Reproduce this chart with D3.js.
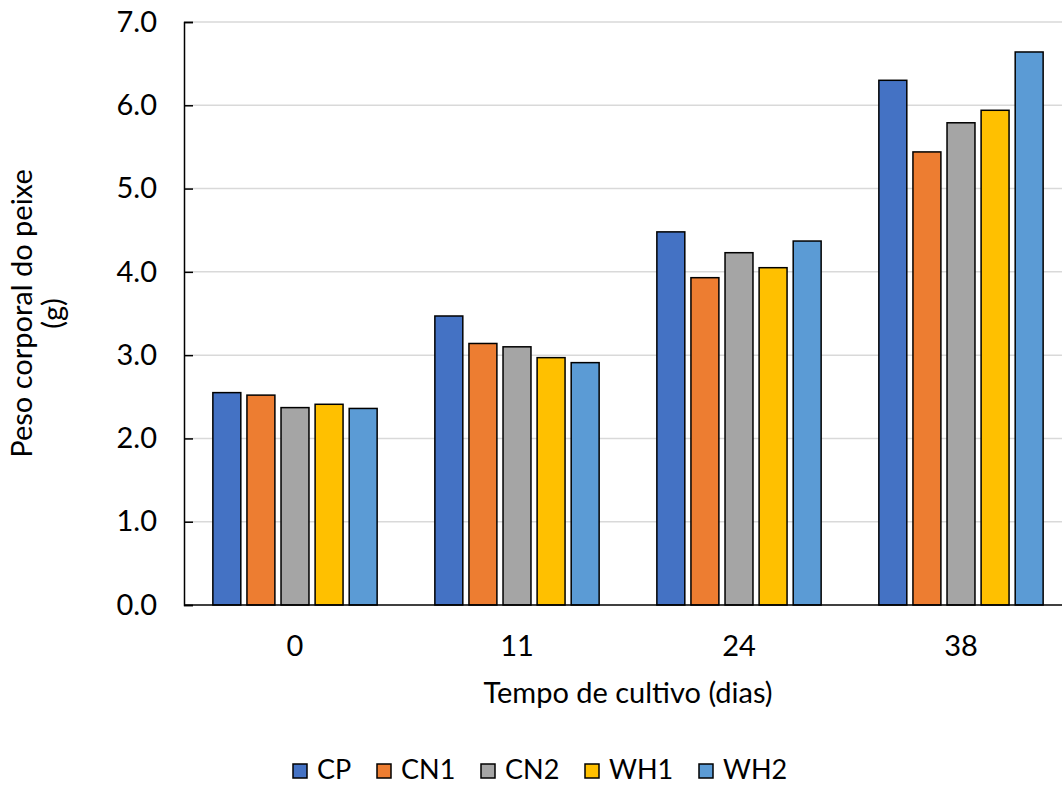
<!DOCTYPE html>
<html>
<head>
<meta charset="utf-8">
<script src="https://cdn.jsdelivr.net/npm/d3@7"></script>
<style>
  body { margin: 0; background: #fff; }
  text { font-family: Lato, "Open Sans", sans-serif; fill: #000; }
</style>
</head>
<body>
<div id="chart"></div>
<script>
// data
var days = ["0", "11", "24", "38"];
var groups = ["CP", "CN1", "CN2", "WH1", "WH2"];
var CP  = [2.55, 3.47, 4.48, 6.30];
var CN1 = [2.52, 3.14, 3.93, 5.44];
var CN2 = [2.37, 3.10, 4.23, 5.79];
var WH1 = [2.41, 2.97, 4.05, 5.94];
var WH2 = [2.36, 2.91, 4.37, 6.64];
var yTicks = [0, 1, 2, 3, 4, 5, 6, 7];

var series = { CP: CP, CN1: CN1, CN2: CN2, WH1: WH1, WH2: WH2 };
var colors = d3.scaleOrdinal()
    .domain(groups)
    .range(["#4472C4", "#ED7D31", "#A5A5A5", "#FFC000", "#5B9BD5"]);

var W = 1062, H = 785;
var plotLeft = 184, plotTop = 22, plotBottom = 605, plotRight = 1072;
var fs = "29px";

var svg = d3.select("#chart").append("svg")
    .attr("width", W)
    .attr("height", H);

// scales
var x0 = d3.scaleBand().domain(days).range([plotLeft, plotRight]).paddingInner(0.26).paddingOuter(0.13);
var x1 = d3.scaleBand().domain(groups).range([0, x0.bandwidth()]).paddingInner(0.18);
var y = d3.scaleLinear().domain([0, 7]).range([plotBottom, plotTop]);

// gridlines
svg.append("g")
    .selectAll("line")
    .data(yTicks.slice(1))
    .enter()
    .append("line")
    .attr("x1", plotLeft).attr("x2", W)
    .attr("y1", function(d) { return y(d); })
    .attr("y2", function(d) { return y(d); })
    .attr("stroke", "#d9d9d9")
    .attr("stroke-width", 1.5);

// bars
var rows = days.map(function(d, i) {
    return { day: d, vals: groups.map(function(g) { return { key: g, value: series[g][i] }; }) };
});

svg.append("g")
    .selectAll("g")
    .data(rows)
    .enter()
    .append("g")
    .attr("transform", function(d) { return "translate(" + x0(d.day) + ",0)"; })
    .selectAll("rect")
    .data(function(d) { return d.vals; })
    .enter()
    .append("rect")
    .attr("x", function(d) { return x1(d.key); })
    .attr("y", function(d) { return y(d.value); })
    .attr("width", x1.bandwidth())
    .attr("height", function(d) { return y(0) - y(d.value); })
    .attr("fill", function(d) { return colors(d.key); })
    .attr("stroke", "#000")
    .attr("stroke-width", 1.5);

// y axis (ticks inside)
var yAxis = svg.append("g")
    .attr("transform", "translate(" + plotLeft + ",0)")
    .call(d3.axisLeft(y).tickValues(yTicks).tickSize(-9).tickPadding(27)
        .tickFormat(d3.format(".1f")));
yAxis.select(".domain").attr("stroke", "#000").attr("stroke-width", 1.5);
yAxis.selectAll(".tick line").attr("stroke", "#000").attr("stroke-width", 1.5);
yAxis.selectAll("text").style("font-size", fs).attr("fill", "#000");

// x axis
var xAxis = svg.append("g")
    .attr("transform", "translate(0," + plotBottom + ")")
    .call(d3.axisBottom(x0).tickSize(0).tickPadding(30));
xAxis.select(".domain").attr("stroke", "#000").attr("stroke-width", 1.5)
    .attr("d", "M" + plotLeft + ",0H" + W);
xAxis.selectAll("text").style("font-size", fs).attr("fill", "#000");

// axis titles
svg.append("text")
    .attr("x", 628)
    .attr("y", 703)
    .attr("text-anchor", "middle")
    .style("font-size", fs)
    .text("Tempo de cultivo (dias)");

var yt = svg.append("text")
    .attr("transform", "translate(32," + ((plotTop + plotBottom) / 2) + ") rotate(-90)")
    .attr("text-anchor", "middle")
    .style("font-size", fs);
yt.append("tspan").attr("x", 0).attr("dy", 0).text("Peso corporal do peixe");
yt.append("tspan").attr("x", 0).attr("dy", 31).text("(g)");

// legend
var legendX = [293, 377, 481, 585, 699];
var leg = svg.append("g")
    .selectAll("g")
    .data(groups)
    .enter()
    .append("g")
    .attr("transform", function(d, i) { return "translate(" + legendX[i] + ",764)"; });
leg.append("rect")
    .attr("width", 14).attr("height", 14)
    .attr("fill", function(d) { return colors(d); })
    .attr("stroke", "#000")
    .attr("stroke-width", 1.5);
leg.append("text")
    .attr("x", 24)
    .attr("y", 15)
    .style("font-size", "27px")
    .text(function(d) { return d; });
</script>
</body>
</html>
